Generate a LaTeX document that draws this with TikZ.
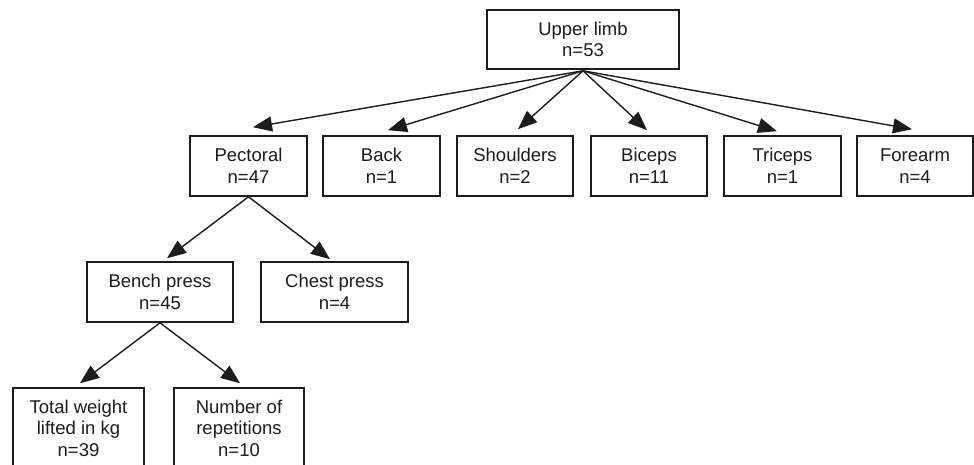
\documentclass[tikz,border=0pt]{standalone}
\usepackage{fontspec}
\setmainfont{Liberation Sans}
\usetikzlibrary{arrows.meta}
\definecolor{ink}{RGB}{28,28,28}
\tikzset{
  box/.style={draw=ink, line width=1.6pt, rectangle, inner sep=0pt, align=center,
    text=ink, font=\fontsize{18.5}{21.5}\selectfont, minimum height=60pt},
  arr/.style={draw=ink, line width=1.4pt, -{Triangle[length=19pt,width=15pt]}}
}
\begin{document}
\begin{tikzpicture}[x=1pt,y=-1pt]
\clip (0,0) rectangle (974,465);
\fill[white] (0,0) rectangle (974,465);
% level 1
\node[box, minimum width=192pt, minimum height=59pt] (up) at (583,39.5) {Upper limb\\n=53};
% level 2
\node[box, minimum width=117pt] (pec) at (248.5,166) {Pectoral\\n=47};
\node[box, minimum width=117pt] (back) at (381.5,166) {Back\\n=1};
\node[box, minimum width=116pt] (sho) at (515,166) {Shoulders\\n=2};
\node[box, minimum width=116pt] (bic) at (649,166) {Biceps\\n=11};
\node[box, minimum width=117pt] (tri) at (782.5,166) {Triceps\\n=1};
\node[box, minimum width=116pt] (fore) at (915,166) {Forearm\\n=4};
% level 3
\node[box, minimum width=146pt] (bench) at (160,292) {Bench press\\n=45};
\node[box, minimum width=147pt] (chest) at (334.5,292) {Chest press\\n=4};
% level 4
\node[box, minimum width=131pt, minimum height=80pt] (tot) at (78.5,428) {Total weight\\lifted in kg\\n=39};
\node[box, minimum width=130pt, minimum height=80pt] (rep) at (239,428) {Number of\\repetitions\\n=10};
% connectors
\draw[arr] ([yshift=-1pt]up.south) -- ([xshift=4.5pt,yshift=8pt]pec.north);
\draw[arr] ([yshift=-1pt]up.south) -- ([xshift=6.5pt,yshift=5pt]back.north);
\draw[arr] ([yshift=-1pt]up.south) -- ([xshift=3pt,yshift=6pt]sho.north);
\draw[arr] ([yshift=-1pt]up.south) -- ([xshift=-2pt,yshift=5pt]bic.north);
\draw[arr] ([yshift=-1pt]up.south) -- ([xshift=-5.5pt,yshift=4pt]tri.north);
\draw[arr] ([yshift=-1pt]up.south) -- ([xshift=-3pt,yshift=6pt]fore.north);
\draw[arr] (pec.south) -- ([xshift=7pt,yshift=3pt]bench.north);
\draw[arr] (pec.south) -- ([xshift=-4.5pt,yshift=2pt]chest.north);
\draw[arr] (bench.south) -- ([xshift=1.5pt,yshift=4pt]tot.north);
\draw[arr] (bench.south) -- ([xshift=1pt,yshift=4pt]rep.north);
\end{tikzpicture}
\end{document}
